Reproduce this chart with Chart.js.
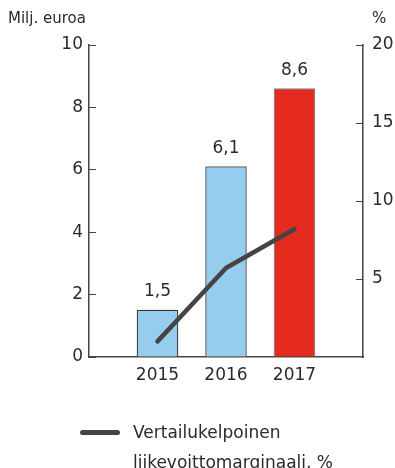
<!DOCTYPE html>
<html>
<head>
<meta charset="utf-8">
<script src="https://cdn.jsdelivr.net/npm/chart.js@4/dist/chart.umd.min.js"></script>
<style>
    body { margin: 0; background: #fff; }
    .wrap { position: relative; width: 395px; height: 468px; font-family: "DejaVu Sans", sans-serif; color: #2b2b2b; }
    .unit { position: absolute; font-size: 15px; line-height: 15px; }
    .legend { position: absolute; left: 80px; top: 417px; display: flex; align-items: flex-start; }
    .legend .swatch { width: 40px; height: 5px; border-radius: 3px; background: #444; margin-top: 13px; margin-right: 13px; }
    .legend .txt { font-size: 17px; line-height: 30px; }
</style>
</head>
<body>
<div class="wrap">
    <canvas id="chartTulos" width="395" height="468"></canvas>
    <div class="unit" style="left:8px; top:11px;">Milj. euroa</div>
    <div class="unit" style="left:372px; top:11px;">%</div>
    <div class="legend">
        <div class="swatch"></div>
        <div class="txt">Vertailukelpoinen<br>liikevoittomarginaali, %</div>
    </div>
</div>
<script>
const vuodet = ["2015", "2016", "2017"];
const liikevoitto = [1.5, 6.1, 8.6];
const marginaali = [1.0, 5.7, 8.2];
const vasenTicks = [0, 2, 4, 6, 8, 10];
const oikeaTicks = [5, 10, 15, 20];

const textColor = '#2b2b2b';
const axisColor = '#444';
const tickFont = { family: 'DejaVu Sans', size: 17 };

// tyhjä paikka molempiin reunoihin, kuten alkuperäisessä
const labels = ['', ...vuodet, ''];
const pad = arr => [null, ...arr, null];

const arvoLabelit = {
    id: 'arvoLabelit',
    afterDatasetsDraw(chart) {
        const ctx = chart.ctx;
        const meta = chart.getDatasetMeta(1);
        ctx.save();
        ctx.font = '17px "DejaVu Sans"';
        ctx.fillStyle = textColor;
        ctx.textAlign = 'center';
        ctx.textBaseline = 'alphabetic';
        meta.data.forEach((bar, i) => {
            const v = chart.data.datasets[1].data[i];
            if (v == null) return;
            ctx.fillText(v.toFixed(1).replace('.', ','), bar.x, bar.y - 14);
        });
        ctx.restore();
    }
};

const ctx = document.getElementById('chartTulos').getContext('2d');
new Chart(ctx, {
    data: {
        labels: labels,
        datasets: [
            {
                type: 'line', label: 'Vertailukelpoinen liikevoittomarginaali, %',
                data: pad(marginaali), yAxisID: 'y2', order: 0,
                borderColor: '#444', borderWidth: 4.5, borderCapStyle: 'round', borderJoinStyle: 'round',
                pointRadius: 0, tension: 0, spanGaps: false
            },
            {
                type: 'bar', label: 'Milj. euroa',
                data: pad(liikevoitto), yAxisID: 'y', order: 1,
                backgroundColor: [null, '#96cdef', '#96cdef', '#e52a1e', null],
                borderColor: [null, '#333', '#666', '#8a8a8a', null],
                borderWidth: 1.2, barThickness: 41
            }
        ]
    },
    options: {
        responsive: false,
        animation: false,
        layout: { padding: { top: 45, left: 0, right: 0, bottom: 0 } },
        plugins: { legend: { display: false }, tooltip: { enabled: false } },
        scales: {
            x: {
                offset: false,
                grid: { display: false, drawTicks: false },
                border: { color: axisColor, width: 1.5 },
                ticks: { color: textColor, font: tickFont, padding: 8, maxRotation: 0, autoSkip: false },
                afterFit(s) { s.height = 111; }
            },
            y: {
                position: 'left', min: 0, max: 10,
                afterBuildTicks(s) { s.ticks = vasenTicks.map(v => ({ value: v })); },
                grid: { drawOnChartArea: false, tickLength: -7, color: axisColor },
                border: { color: axisColor, width: 1.5 },
                ticks: { color: textColor, font: tickFont, padding: 13 },
                afterFit(s) { s.width = 89; }
            },
            y2: {
                position: 'right', min: 0, max: 20,
                afterBuildTicks(s) { s.ticks = oikeaTicks.map(v => ({ value: v })); },
                grid: { drawOnChartArea: false, tickLength: -7, color: axisColor },
                border: { color: axisColor, width: 1.5 },
                ticks: { color: textColor, font: tickFont, padding: 16 },
                afterFit(s) { s.width = 32; }
            }
        }
    },
    plugins: [arvoLabelit]
});
</script>
</body>
</html>
